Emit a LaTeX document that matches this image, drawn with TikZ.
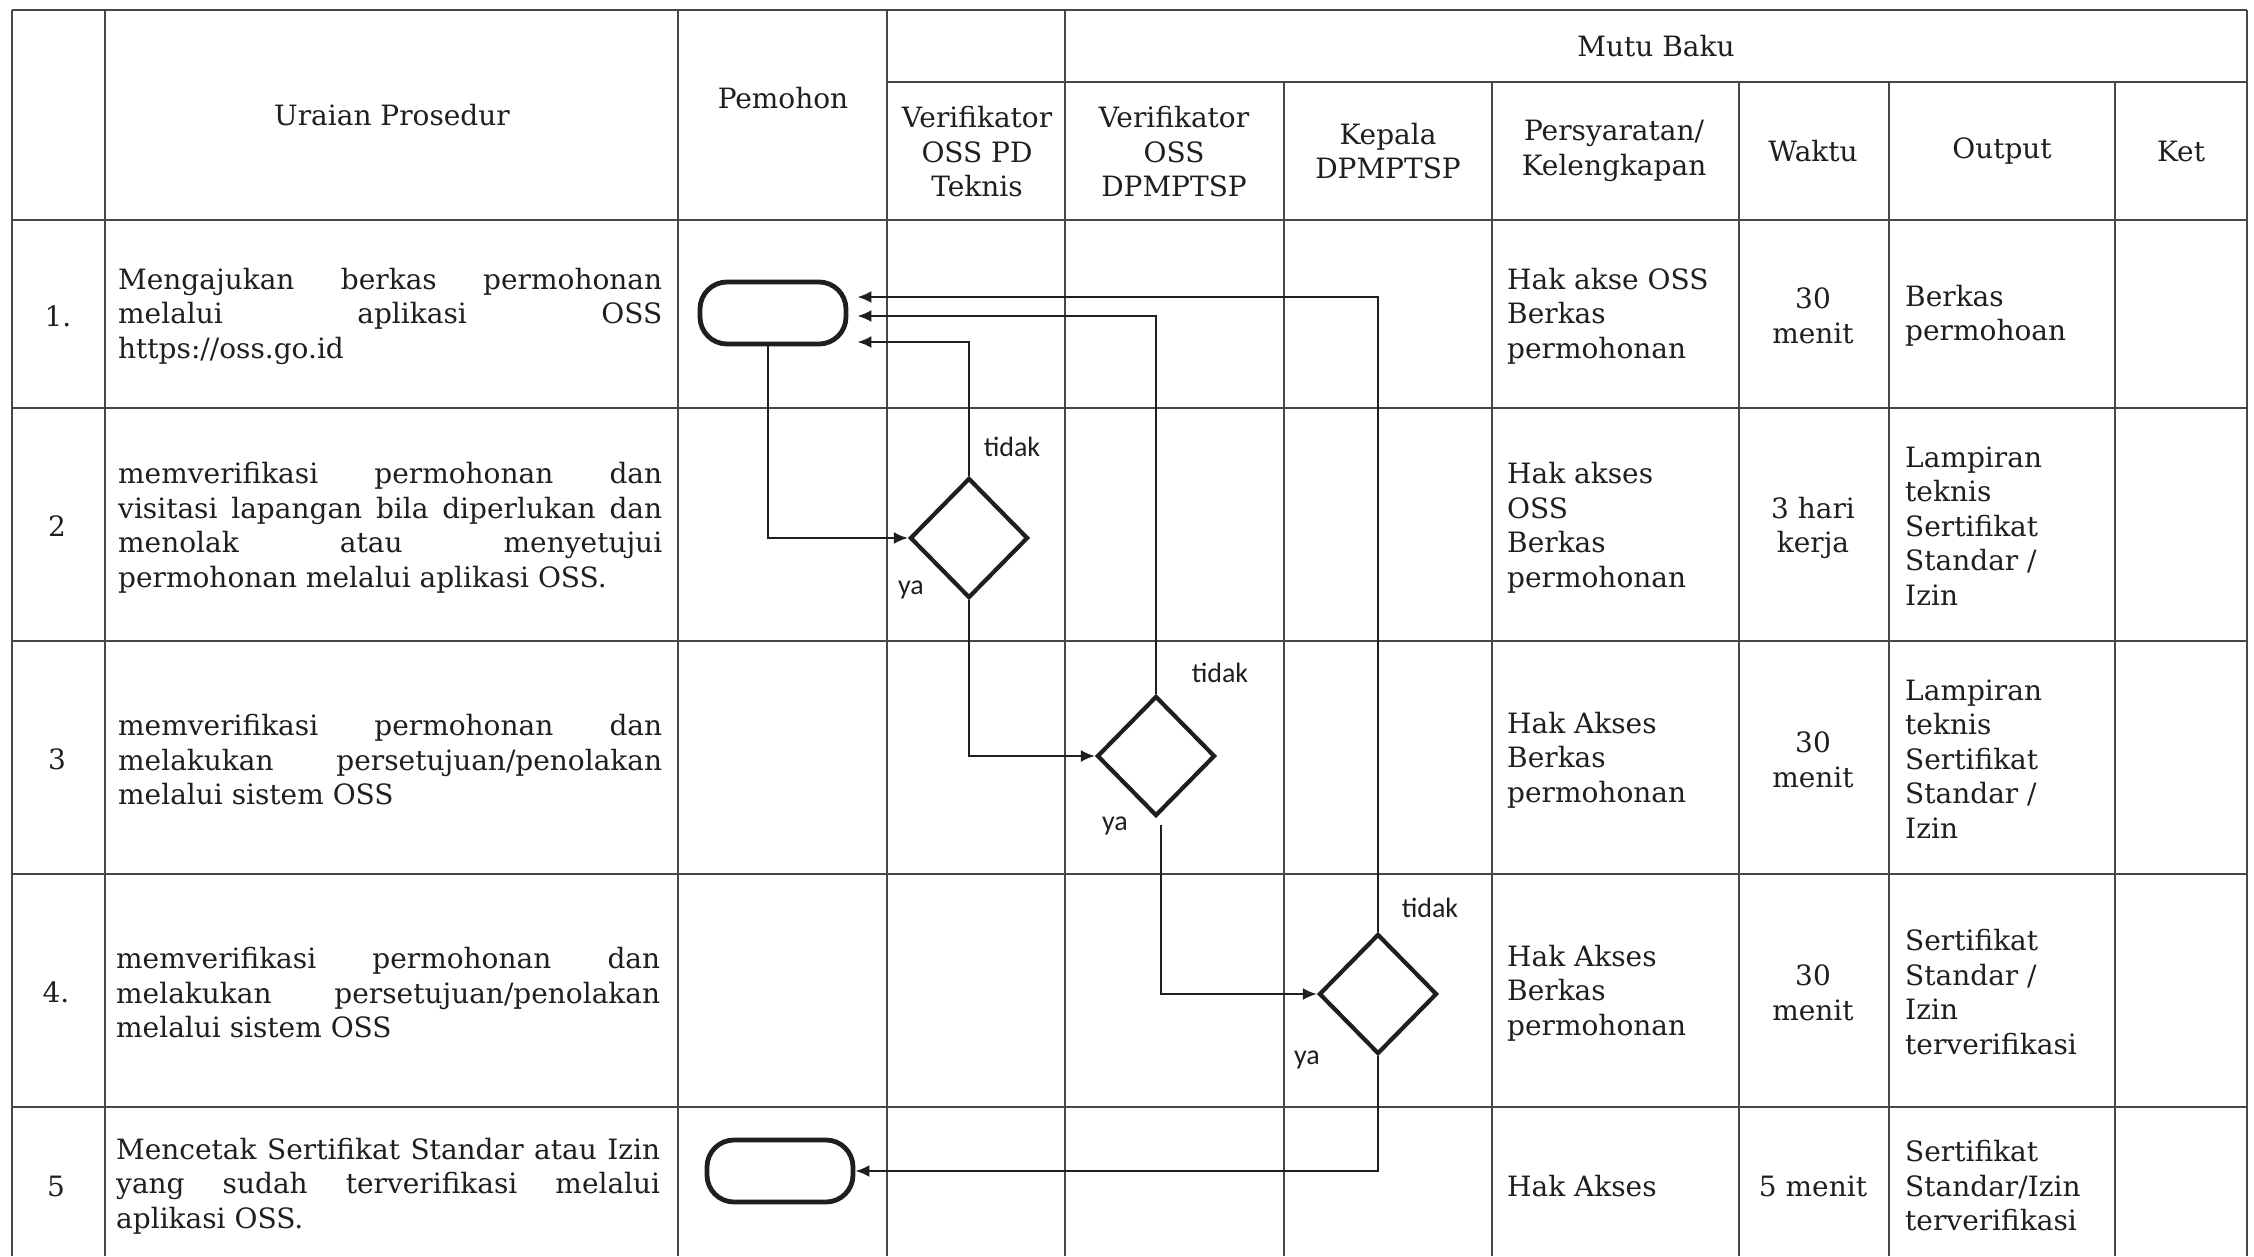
\documentclass[tikz,border=0pt]{standalone}
\usepackage{fontspec}
\setmainfont{DejaVu Serif}
\newfontfamily\lblfont{Carlito}
\usetikzlibrary{arrows.meta,shapes.geometric}
\newcommand{\jl}[1]{\makebox[544pt][s]{#1}}
\begin{document}
\begin{tikzpicture}[x=1pt,y=-1pt,
  tline/.style={line width=1.6pt, draw=black!72},
  txt/.style={font=\fontsize{28pt}{34.5pt}\selectfont, inner sep=0pt, text=black!88},
  body/.style={txt, anchor=west, align=left},
  ctr/.style={txt, align=center},
  term/.style={draw=black!88, line width=4.8pt, rounded corners=27pt, minimum width=146pt, minimum height=62pt, inner sep=0pt},
  dec/.style={diamond, draw=black!88, line width=4.2pt, minimum width=118pt, minimum height=120pt, inner sep=0pt},
  flow/.style={line width=2.4pt, draw=black!88, -{Latex[length=14pt,width=12pt]}},
  lbl/.style={font=\lblfont\fontsize{28pt}{32pt}\selectfont, inner sep=0pt, text=black!88}]
\useasboundingbox (0,0) rectangle (2254,1256);
\fill[white] (0,0) rectangle (2254,1256);

% table lines
\foreach \x in {12,105,678,887,1065,2247} \draw[tline] (\x,10) -- (\x,1256);
\foreach \x in {1284,1492,1739,1889,2115} \draw[tline] (\x,82) -- (\x,1256);
\draw[tline] (12,10) -- (2247,10);
\draw[tline] (887,82) -- (2247,82);
\foreach \y in {220,408,641,874,1107} \draw[tline] (12,\y) -- (2247,\y);

% header
\node[ctr] (hUraian) at (392,115) {Uraian Prosedur};
\node[ctr] (hPemohon) at (783,98) {Pemohon};
\node[ctr] (hMutu) at (1656,46) {Mutu Baku};
\node[ctr] (hVerPD) at (977,152) {Verifikator\\OSS PD\\Teknis};
\node[ctr] (hVerDP) at (1174,152) {Verifikator\\OSS\\DPMPTSP};
\node[ctr] (hKepala) at (1388,151) {Kepala\\DPMPTSP};
\node[ctr] (hPers) at (1614,151) {Persyaratan/\\Kelengkapan};
\node[ctr] (hWaktu) at (1813,151) {Waktu};
\node[ctr] (hOutput) at (2002,151) {Output};
\node[ctr] (hKet) at (2181,151) {Ket};

% row numbers
\node[ctr] (n1) at (58,316) {1.};
\node[ctr] (n2) at (57,526) {2};
\node[ctr] (n3) at (57,759) {3};
\node[ctr] (n4) at (56,992) {4.};
\node[ctr] (n5) at (56,1186) {5};

% procedure texts
\node[body] (u1) at (118,316) {\jl{Mengajukan berkas permohonan}\\\jl{melalui aplikasi OSS}\\https://oss.go.id};
\node[body] (u2) at (118,528) {\jl{memverifikasi permohonan dan}\\\jl{visitasi lapangan bila diperlukan dan}\\\jl{menolak atau menyetujui}\\permohonan melalui aplikasi OSS.};
\node[body] (u3) at (118,760) {\jl{memverifikasi permohonan dan}\\\jl{melakukan persetujuan/penolakan}\\melalui sistem OSS};
\node[body] (u4) at (116,993) {\jl{memverifikasi permohonan dan}\\\jl{melakukan persetujuan/penolakan}\\melalui sistem OSS};
\node[body] (u5) at (116,1186) {\jl{Mencetak Sertifikat Standar atau Izin}\\\jl{yang sudah terverifikasi melalui}\\aplikasi OSS.};

% persyaratan
\node[body] (p1) at (1507,316) {Hak akse OSS\\Berkas\\permohonan};
\node[body] (p2) at (1507,528) {Hak akses\\OSS\\Berkas\\permohonan};
\node[body] (p3) at (1507,760) {Hak Akses\\Berkas\\permohonan};
\node[body] (p4) at (1507,993) {Hak Akses\\Berkas\\permohonan};
\node[body] (p5) at (1507,1186) {Hak Akses};

% waktu
\node[ctr] (w1) at (1813,316) {30\\menit};
\node[ctr] (w2) at (1813,528) {3 hari\\kerja};
\node[ctr] (w3) at (1813,760) {30\\menit};
\node[ctr] (w4) at (1813,993) {30\\menit};
\node[ctr] (w5) at (1813,1186) {5 menit};

% output
\node[body] (o1) at (1905,316) {Berkas\\permohoan};
\node[body] (o2) at (1905,526) {Lampiran\\teknis\\Sertifikat\\Standar /\\Izin};
\node[body] (o3) at (1905,759) {Lampiran\\teknis\\Sertifikat\\Standar /\\Izin};
\node[body] (o4) at (1905,992) {Sertifikat\\Standar /\\Izin\\terverifikasi};
\node[body] (o5) at (1905,1186) {Sertifikat\\Standar/Izin\\terverifikasi};

% flow shapes
\node[term] (t1) at (773,313) {};
\node[term] (t5) at (780,1171) {};
\node[dec] (d1) at (969,538) {};
\node[dec] (d2) at (1156,756) {};
\node[dec] (d3) at (1378,994) {};

% labels
\node[lbl] (l1t) at (1012,447) {tidak};
\node[lbl] (l1y) at (911,590) {ya};
\node[lbl] (l2t) at (1220,673) {tidak};
\node[lbl] (l2y) at (1115,826) {ya};
\node[lbl] (l3t) at (1430,908) {tidak};
\node[lbl] (l3y) at (1307,1060) {ya};

% connectors
\draw[flow] ([xshift=-5pt]t1.south) |- (d1.west);
\draw[flow, shorten >=9pt] (d1.north) |- ([yshift=-29pt]t1.east);
\draw[flow] (d1.south) |- (d2.west);
\draw[flow, shorten >=9pt] (d2.north) |- ([yshift=-3pt]t1.east);
\draw[flow, shorten <=7pt] ([xshift=5pt]d2.south) |- (d3.west);
\draw[flow, shorten >=9pt] (d3.north) |- ([yshift=16pt]t1.east);
\draw[flow] (d3.south) |- (t5.east);
\end{tikzpicture}
\end{document}
